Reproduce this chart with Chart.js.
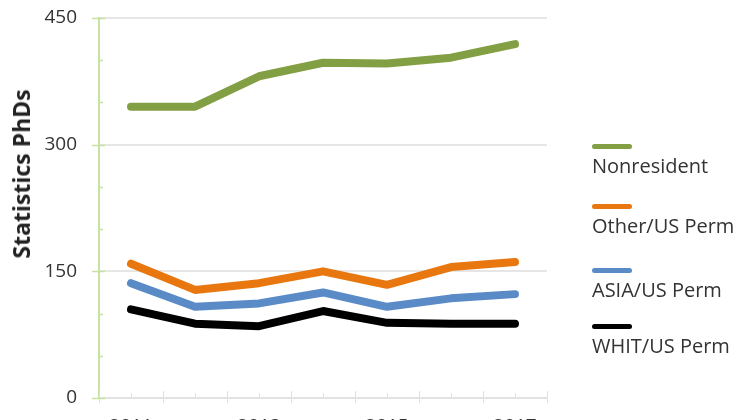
<!DOCTYPE html>
<html>
<head>
<meta charset="utf-8">
<script src="https://cdn.jsdelivr.net/npm/chart.js@4"></script>
<style>
  html, body { margin: 0; padding: 0; background: #fff; overflow: hidden; }
  #wrap { position: relative; width: 750px; height: 420px; overflow: hidden; font-family: "Open Sans", sans-serif; }
  #chart { position: absolute; left: 0; top: 0; }
  #ytitle {
    position: absolute; left: 21px; top: 174px;
    transform: translate(-50%, -50%) rotate(-90deg);
    font-weight: bold; font-size: 23px; color: #222; white-space: nowrap;
  }
  .item { position: absolute; left: 592px; }
  .item .swatch { width: 40px; height: 5px; border-radius: 3px; }
  .item .label { margin-top: 4px; font-size: 20px; line-height: 26px; color: #333; white-space: nowrap; }
</style>
</head>
<body>
<div id="wrap">
  <canvas id="chart" width="750" height="440"></canvas>
  <div id="ytitle">Statistics PhDs</div>
  <div id="legend"></div>
</div>
<script>
// Data
const years = [2011, 2012, 2013, 2014, 2015, 2016, 2017];
const yearLabels = [2011, 2013, 2015, 2017];
const yTicks = [0, 150, 300, 450];

const seriesNames = ['Nonresident', 'Other/US Perm', 'ASIA/US Perm', 'WHIT/US Perm'];
const seriesColors = ['#829f43', '#e8770f', '#5a8bc6', '#000000'];
const nonresident = [345, 345, 381, 397, 396, 403, 419];
const otherPerm = [159, 128, 136, 150, 134, 155, 161];
const asiaPerm = [136, 108, 112, 125, 108, 118, 123];
const whitPerm = [105, 88, 85, 103, 89, 88, 88];
const seriesValues = [nonresident, otherPerm, asiaPerm, whitPerm];
const legendTops = [144, 204, 268, 324];

// HTML legend: line swatch above label
const legend = document.getElementById('legend');
seriesNames.forEach(function (name, i) {
  const item = document.createElement('div');
  item.className = 'item';
  item.style.top = legendTops[i] + 'px';
  item.innerHTML = '<div class="swatch" style="background:' + seriesColors[i] + '"></div>' +
    '<div class="label">' + name + '</div>';
  legend.appendChild(item);
});

// axis tick marks drawn like the original (minor + major)
const tickMarks = {
  id: 'tickMarks',
  afterDraw(chart) {
    const ctx = chart.ctx;
    const x = chart.scales.x;
    const y = chart.scales.y;
    const area = chart.chartArea;
    ctx.save();
    ctx.lineWidth = 1;

    // x axis: short at each year, longer between years
    ctx.strokeStyle = '#e0e0e0';
    for (let v = x.min; v <= x.max + 0.01; v += 0.5) {
      const px = Math.round(x.getPixelForValue(v)) + 0.5;
      const between = Math.abs(v - Math.round(v)) > 0.1;
      ctx.beginPath();
      ctx.moveTo(px, between ? area.bottom - 7 : area.bottom - 5);
      ctx.lineTo(px, between ? area.bottom + 5 : area.bottom);
      ctx.stroke();
    }

    // y axis: major ticks cross the axis, minor ones sit inside
    ctx.strokeStyle = '#c6e3a3';
    ctx.lineWidth = 1.5;
    for (let v = 0; v <= y.max; v += 50) {
      const py = Math.round(y.getPixelForValue(v)) + 0.5;
      const major = yTicks.includes(v);
      ctx.beginPath();
      ctx.moveTo(major ? area.left - 7 : area.left, py);
      ctx.lineTo(major ? area.left + 6 : area.left + 4, py);
      ctx.stroke();
    }
    ctx.restore();
  }
};

const ctx = document.getElementById('chart').getContext('2d');
new Chart(ctx, {
  type: 'line',
  data: {
    datasets: seriesNames.map(function (name, i) {
      return {
        label: name,
        data: years.map(function (y, j) { return { x: y, y: seriesValues[i][j] }; }),
        borderColor: seriesColors[i],
        borderWidth: 8,
        borderCapStyle: 'round',
        borderJoinStyle: 'round',
        pointRadius: 0,
        tension: 0,
        fill: false
      };
    })
  },
  options: {
    responsive: false,
    animation: false,
    layout: { padding: { top: 18, right: 203, left: 0, bottom: 0 } },
    plugins: {
      legend: { display: false },
      tooltip: { enabled: false }
    },
    scales: {
      x: {
        type: 'linear',
        min: 2010.5,
        max: 2017.5,
        afterBuildTicks(scale) {
          scale.ticks = yearLabels.map(function (v) { return { value: v }; });
        },
        afterFit(scale) {
          scale.height = 42;
          scale.paddingLeft = 0;
          scale.paddingRight = 0;
        },
        ticks: {
          autoSkip: false,
          maxRotation: 0,
          padding: 17,
          color: '#333',
          font: { family: 'Open Sans', size: 19 },
          callback: function (v) { return String(v); }
        },
        grid: { display: false, drawTicks: false },
        border: { display: true, color: '#e2e2e2', width: 2 }
      },
      y: {
        min: 0,
        max: 450,
        afterBuildTicks(scale) {
          scale.ticks = yTicks.map(function (v) { return { value: v }; });
        },
        afterFit(scale) {
          scale.width = 99;
          scale.paddingTop = 0;
          scale.paddingBottom = 0;
        },
        ticks: {
          autoSkip: false,
          padding: 22,
          color: '#333',
          font: { family: 'Open Sans', size: 19 }
        },
        grid: {
          color: '#e6e6e6',
          lineWidth: 2,
          drawTicks: false
        },
        border: { display: true, color: '#c6e3a3', width: 2 }
      }
    }
  },
  plugins: [tickMarks]
});
</script>
</body>
</html>
